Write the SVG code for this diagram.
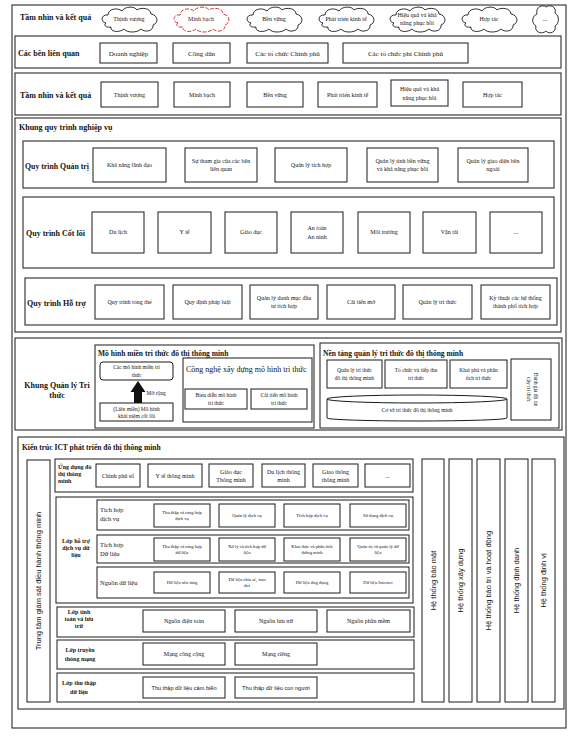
<svg xmlns="http://www.w3.org/2000/svg" width="575" height="739" viewBox="0 0 575 739">
<style>
text{font-family:"Liberation Serif","Times New Roman",serif;fill:#151515}
.m{text-anchor:middle}
.h{font-weight:bold}
.bx{fill:#fff;stroke:#1a1a1a;stroke-width:1}
.sec{fill:none;stroke:#2a2a2a;stroke-width:1.1}
.cl{fill:#fff;stroke:#1a1a1a;stroke-width:0.9}
.red{stroke:#c22;stroke-dasharray:4 1.5}
.sans{font-family:"Liberation Sans",Arial,sans-serif}
.f46{font-size:4.6px}
.f55{font-size:5.5px}
.f56{font-size:5.6px}
.f6{font-size:6px}
.f65{font-size:6.5px}
.f7{font-size:7px}
.f75{font-size:7.5px}
.f8{font-size:8px}
</style>
<defs>
<path id="cloud" d="M6,17 C0,16 1,8 8,9 C8,3 17,1 22,5 C25,0 35,0 37,4 C41,1 51,2 51,8 C58,9 59,17 53,19 C54,25 45,27 41,23 C37,27 27,27 24,23 C19,27 10,26 11,21 C6,22 3,19 6,17 Z"/>
</defs>
<rect width="575" height="739" fill="#fff"/>
<rect class="sec" x="12" y="5" width="554" height="723"/>

<g id="vision-clouds">
<text class="h f8" x="20" y="20">Tầm nhìn và kết quả</text>
<g id="cloud-thinh-vuong"><use href="#cloud" class="cl" x="100" y="6"/><text class="m f6" x="129" y="21">Thịnh vượng</text></g>
<g id="cloud-minh-bach"><use href="#cloud" class="cl red" x="172" y="6"/><text class="m f6" x="201" y="21" style="fill:#5a1010">Minh bạch</text></g>
<g id="cloud-ben-vung"><use href="#cloud" class="cl" x="245" y="6"/><text class="m f6" x="274" y="21">Bền vững</text></g>
<g id="cloud-phat-trien"><use href="#cloud" class="cl" x="317" y="6"/><text class="m f6" x="346" y="21">Phát triển kinh tế</text></g>
<g id="cloud-hieu-qua"><use href="#cloud" class="cl" x="388" y="6"/><text class="m f6" x="417" y="17">Hiệu quả và khả</text><text class="m f6" x="417" y="25">năng phục hồi</text></g>
<g id="cloud-hop-tac"><use href="#cloud" class="cl" x="460" y="6"/><text class="m f6" x="489" y="21">Hợp tác</text></g>
<g id="cloud-more"><path class="cl" transform="translate(532,4)" d="M5,10 C3,3 11,0 14,3 C18,0 25,3 23,9 C28,12 27,20 23,22 C25,28 17,31 14,27 C10,31 2,28 4,22 C-1,19 0,12 5,10 Z"/><text class="m f6" x="545" y="21">...</text></g>
</g>

<g id="stakeholders">
<rect class="sec" x="15" y="36" width="546" height="32"/>
<text class="h f8" x="18" y="56">Các bên liên quan</text>
<g id="sh-doanh-nghiep"><rect class="bx" x="100" y="43" width="57" height="20"/><text class="m f7" x="128.5" y="55.5">Doanh nghiệp</text></g>
<g id="sh-cong-dan"><rect class="bx" x="173" y="43" width="57" height="20"/><text class="m f7" x="201.5" y="55.5">Công dân</text></g>
<g id="sh-to-chuc-cp"><rect class="bx" x="247" y="43" width="81" height="20"/><text class="m f7" x="287.5" y="55.5">Các tổ chức Chính phủ</text></g>
<g id="sh-to-chuc-phi-cp"><rect class="bx" x="343" y="43" width="125" height="20"/><text class="m f7" x="405.5" y="55.5">Các tổ chức phi Chính phủ</text></g>
</g>

<g id="vision-boxes">
<rect class="sec" x="15" y="73" width="546" height="42"/>
<text class="h f8" x="20" y="98">Tầm nhìn và kết quả</text>
<g id="v-thinh-vuong"><rect class="bx" x="101" y="82" width="57" height="25"/><text class="m f6" x="129.5" y="96.5">Thịnh vượng</text></g>
<g id="v-minh-bach"><rect class="bx" x="174" y="82" width="56" height="25"/><text class="m f6" x="202" y="96.5">Minh bạch</text></g>
<g id="v-ben-vung"><rect class="bx" x="247" y="82" width="56" height="25"/><text class="m f6" x="275" y="96.5">Bền vững</text></g>
<g id="v-phat-trien"><rect class="bx" x="318" y="82" width="59" height="25"/><text class="m f6" x="347.5" y="96.5">Phát triển kinh tế</text></g>
<g id="v-hieu-qua"><rect class="bx" x="391" y="80" width="57" height="26"/><text class="m f6" x="419.5" y="91">Hiệu quả và khả</text><text class="m f6" x="419.5" y="100">năng phục hồi</text></g>
<g id="v-hop-tac"><rect class="bx" x="463" y="82" width="59" height="25"/><text class="m f6" x="492.5" y="96.5">Hợp tác</text></g>
</g>

<g id="business-process">
<rect class="sec" x="15" y="118" width="546" height="214"/>
<text class="h f8" x="19" y="130">Khung quy trình nghiệp vụ</text>
<g id="qt-quan-tri">
<rect class="sec" x="23" y="141" width="531" height="47"/>
<text class="h f8" x="25" y="169" style="font-size:7.8px">Quy trình Quản trị</text>
<g id="qt1"><rect class="bx" x="93" y="148" width="73" height="34"/><text class="m f6" x="129.5" y="167">Khả năng lãnh đạo</text></g>
<g id="qt2"><rect class="bx" x="185" y="148" width="72" height="34"/><text class="m f6" x="221" y="162.5">Sự tham gia của các bên</text><text class="m f6" x="221" y="170.5">liên quan</text></g>
<g id="qt3"><rect class="bx" x="275" y="148" width="72" height="34"/><text class="m f6" x="311" y="167">Quản lý tích hợp</text></g>
<g id="qt4"><rect class="bx" x="367" y="148" width="71" height="34"/><text class="m f6" x="402.5" y="162.5">Quản lý tính bền vững</text><text class="m f6" x="402.5" y="170.5">và khả năng phục hồi</text></g>
<g id="qt5"><rect class="bx" x="458" y="148" width="70" height="34"/><text class="m f6" x="493" y="162.5">Quản lý giao diện bên</text><text class="m f6" x="493" y="170.5">ngoài</text></g>
</g>
<g id="qt-cot-loi">
<rect class="sec" x="23" y="197" width="531" height="71"/>
<text class="h f8" x="26" y="236">Quy trình Cốt lõi</text>
<g id="cl1"><rect class="bx" x="92" y="212" width="52" height="41"/><text class="m f6" x="118" y="234">Du lịch</text></g>
<g id="cl2"><rect class="bx" x="158" y="212" width="53" height="41"/><text class="m f6" x="184.5" y="234">Y tế</text></g>
<g id="cl3"><rect class="bx" x="225" y="212" width="52" height="41"/><text class="m f6" x="251" y="234">Giáo dục</text></g>
<g id="cl4"><rect class="bx" x="291" y="212" width="52" height="41"/><text class="m f6" x="317" y="230">An toàn</text><text class="m f6" x="317" y="238.5">An ninh</text></g>
<g id="cl5"><rect class="bx" x="358" y="212" width="52" height="41"/><text class="m f6" x="384" y="234">Môi trường</text></g>
<g id="cl6"><rect class="bx" x="423" y="212" width="53" height="41"/><text class="m f6" x="449.5" y="234">Vận tải</text></g>
<g id="cl7"><rect class="bx" x="490" y="212" width="52" height="41"/><text class="m f6" x="516" y="234">...</text></g>
</g>
<g id="qt-ho-tro">
<rect class="sec" x="25" y="278" width="532" height="47"/>
<text class="h f8" x="27" y="306">Quy trình Hỗ trợ</text>
<g id="ht1"><rect class="bx" x="95" y="285" width="69" height="34"/><text class="m f6" x="129.5" y="304">Quy trình tổng thể</text></g>
<g id="ht2"><rect class="bx" x="173" y="285" width="69" height="34"/><text class="m f6" x="207.5" y="304">Quy định pháp luật</text></g>
<g id="ht3"><rect class="bx" x="250" y="285" width="68" height="34"/><text class="m f6" x="284" y="299.5">Quản lý danh mục đầu</text><text class="m f6" x="284" y="307.5">tư tích hợp</text></g>
<g id="ht4"><rect class="bx" x="327" y="285" width="68" height="34"/><text class="m f6" x="361" y="304">Cải tiến mở</text></g>
<g id="ht5"><rect class="bx" x="403" y="285" width="69" height="34"/><text class="m f6" x="437.5" y="304">Quản lý tri thức</text></g>
<g id="ht6"><rect class="bx" x="481" y="285" width="69" height="34"/><text class="m f6" x="515.5" y="299.5">Kỹ thuật các hệ thống</text><text class="m f6" x="515.5" y="307.5">thành phố tích hợp</text></g>
</g>
</g>

<g id="knowledge">
<rect class="sec" x="15" y="338" width="547" height="92"/>
<text class="h f8 m" x="57" y="388">Khung Quản lý Tri</text>
<text class="h f8 m" x="57" y="398">thức</text>
<g id="domain-model">
<rect class="bx" x="95" y="345" width="219" height="83"/>
<text class="h f75" x="98" y="356">Mô hình miền tri thức đô thị thông minh</text>
<g id="dm-cac-mo-hinh"><rect class="bx" x="100" y="362" width="73" height="18" rx="3"/><text class="m f55" x="136.5" y="369">Các mô hình miền tri</text><text class="m f55" x="136.5" y="376.5">thức</text></g>
<g id="dm-lien-mien"><rect class="bx" x="100" y="403" width="73" height="18"/><text class="m f55" x="136.5" y="410.5">(Liên miền) Mô hình</text><text class="m f55" x="136.5" y="418">khái niệm cốt lõi</text></g>
<g id="dm-cong-nghe">
<rect class="bx" x="183" y="358" width="129" height="64"/>
<text class="f8" x="186" y="372">Công nghệ xây dựng mô hình tri thức</text>
<g id="cn-bieu-dien"><rect class="bx" x="185" y="389" width="62" height="20"/><text class="m f55" x="216" y="397">Biểu diễn mô hình</text><text class="m f55" x="216" y="405">tri thức</text></g>
<g id="cn-cai-tien"><rect class="bx" x="251" y="389" width="56" height="20"/><text class="m f55" x="279" y="397">Cải tiến mô hình</text><text class="m f55" x="279" y="405">tri thức</text></g>
</g>
</g>
<g id="km-platform">
<rect class="bx" x="320" y="343" width="239" height="85"/>
<text class="h f75" x="323" y="356">Nền tảng quản lý tri thức đô thị thông minh</text>
<g id="kp1"><rect class="bx" x="327" y="360" width="55" height="28"/><text class="m f55" x="354.5" y="372">Quản lý tri thức</text><text class="m f55" x="354.5" y="380">đô thị thông minh</text></g>
<g id="kp2"><rect class="bx" x="385" y="360" width="62" height="28"/><text class="m f55" x="416" y="372">Tổ chức và tiếp thu</text><text class="m f55" x="416" y="380">tri thức</text></g>
<g id="kp3"><rect class="bx" x="450" y="360" width="57" height="28"/><text class="m f55" x="478.5" y="372">Khai phá và phân</text><text class="m f55" x="478.5" y="380">tích tri thức</text></g>
<g id="kp4"><rect class="bx" x="511" y="359" width="40" height="61"/><g transform="translate(531,389.5) rotate(90)"><text class="m f55" x="0" y="-3">Đánh giá độ tin</text><text class="m f55" x="0" y="4">cậy tri thức</text></g></g>
<g id="kp-db"><path class="bx" d="M327,399 L327,418 A90,3 0 0 0 507,418 L507,399 Z"/><ellipse class="bx" cx="417" cy="399" rx="90" ry="4"/><text class="m f55" x="417" y="412">Cơ sở tri thức đô thị thông minh</text></g>
</g>
</g>

<g id="ict">
<rect class="sec" x="18" y="437" width="546" height="272"/>
<text class="h f75" x="22" y="450">Kiến trúc ICT phát triển đô thị thông minh</text>
<g id="ict-monitor"><rect class="bx" x="27" y="460" width="23" height="242"/><text class="m sans f75" transform="translate(38.5,581) rotate(-90)" y="2.7">Trung tâm giám sát điều hành thông minh</text></g>

<g id="ict-apps">
<rect class="bx" x="55" y="459" width="358" height="33"/>
<text class="h f6" x="58" y="469">Ứng dụng đô</text><text class="h f6" x="58" y="476">thị thông</text><text class="h f6" x="58" y="483">minh</text>
<g id="app1"><rect class="bx" x="96" y="464" width="44" height="23"/><text class="m f6" x="118" y="477.5">Chính phủ số</text></g>
<g id="app2"><rect class="bx" x="148" y="464" width="54" height="23"/><text class="m f6" x="175" y="477.5">Y tế thông minh</text></g>
<g id="app3"><rect class="bx" x="209" y="464" width="44" height="23"/><text class="m f6" x="231" y="474">Giáo dục</text><text class="m f6" x="231" y="481.5">Thông minh</text></g>
<g id="app4"><rect class="bx" x="262" y="464" width="43" height="23"/><text class="m f6" x="283.5" y="474">Du lịch thông</text><text class="m f6" x="283.5" y="481.5">minh</text></g>
<g id="app5"><rect class="bx" x="313" y="464" width="45" height="23"/><text class="m f6" x="335.5" y="474">Giao thông</text><text class="m f6" x="335.5" y="481.5">thông minh</text></g>
<g id="app6"><rect class="bx" x="365" y="464" width="45" height="23"/><text class="m f6" x="387.5" y="477.5">...</text></g>
</g>

<g id="ict-support">
<rect class="bx" x="56" y="497" width="357" height="106"/>
<text class="h f6 m" x="76" y="543">Lớp hỗ trợ</text><text class="h f6 m" x="76" y="550">dịch vụ dữ</text><text class="h f6 m" x="76" y="557">liệu</text>
<g id="row-service">
<rect class="bx" x="97" y="500" width="312" height="30"/>
<text class="f65" x="100" y="512">Tích hợp</text><text class="f65" x="100" y="521">dịch vụ</text>
<g id="sv1"><rect class="bx" x="154" y="504" width="56" height="23"/><text class="m f46" x="182" y="514">Thu thập và tổng hợp</text><text class="m f46" x="182" y="520">dịch vụ</text></g>
<g id="sv2"><rect class="bx" x="219" y="504" width="56" height="23"/><text class="m f46" x="247" y="517">Quản lý dịch vụ</text></g>
<g id="sv3"><rect class="bx" x="284" y="504" width="56" height="23"/><text class="m f46" x="312" y="517">Tích hợp dịch vụ</text></g>
<g id="sv4"><rect class="bx" x="350" y="504" width="56" height="23"/><text class="m f46" x="378" y="517">Sử dụng dịch vụ</text></g>
</g>
<g id="row-data">
<rect class="bx" x="97" y="535" width="312" height="28"/>
<text class="f65" x="100" y="547">Tích hợp</text><text class="f65" x="100" y="556">Dữ liệu</text>
<g id="dt1"><rect class="bx" x="154" y="538" width="56" height="23"/><text class="m f46" x="182" y="548">Thu thập và tổng hợp</text><text class="m f46" x="182" y="554">dữ liệu</text></g>
<g id="dt2"><rect class="bx" x="219" y="538" width="56" height="23"/><text class="m f46" x="247" y="548">Xử lý và tích hợp dữ</text><text class="m f46" x="247" y="554">liệu</text></g>
<g id="dt3"><rect class="bx" x="284" y="538" width="56" height="23"/><text class="m f46" x="312" y="548">Khai thác và phân tích</text><text class="m f46" x="312" y="554">thông minh</text></g>
<g id="dt4"><rect class="bx" x="350" y="538" width="56" height="23"/><text class="m f46" x="378" y="548">Quản trị và quản lý dữ</text><text class="m f46" x="378" y="554">liệu</text></g>
</g>
<g id="row-source">
<rect class="bx" x="97" y="567" width="312" height="31"/>
<text class="f65" x="100" y="585">Nguồn dữ liệu</text>
<g id="sr1"><rect class="bx" x="154" y="572" width="56" height="21"/><text class="m f46" x="182" y="584">Dữ liệu nền tảng</text></g>
<g id="sr2"><rect class="bx" x="219" y="572" width="56" height="21"/><text class="m f46" x="247" y="581">Dữ liệu chia sẻ, trao</text><text class="m f46" x="247" y="587">đổi</text></g>
<g id="sr3"><rect class="bx" x="284" y="572" width="56" height="21"/><text class="m f46" x="312" y="584">Dữ liệu ứng dụng</text></g>
<g id="sr4"><rect class="bx" x="350" y="572" width="56" height="21"/><text class="m f46" x="378" y="584">Dữ liệu Internet</text></g>
</g>
</g>

<g id="ict-compute">
<rect class="bx" x="57" y="607" width="357" height="30"/>
<text class="h f6 m" x="79" y="614">Lớp tính</text><text class="h f6 m" x="79" y="621">toán và lưu</text><text class="h f6 m" x="79" y="628">trữ</text>
<g id="cp1"><rect class="bx" x="143" y="610" width="82" height="22"/><text class="m f6" x="184" y="623">Nguồn điện toán</text></g>
<g id="cp2"><rect class="bx" x="235" y="610" width="82" height="22"/><text class="m f6" x="276" y="623">Nguồn lưu trữ</text></g>
<g id="cp3"><rect class="bx" x="327" y="610" width="83" height="22"/><text class="m f6" x="368.5" y="623">Nguồn phần mềm</text></g>
</g>

<g id="ict-network">
<rect class="bx" x="57" y="640" width="357" height="29"/>
<text class="h f6 m" x="80" y="652">Lớp truyền</text><text class="h f6 m" x="80" y="661">thông mạng</text>
<g id="nw1"><rect class="bx" x="143" y="643" width="82" height="22"/><text class="m f6" x="184" y="656">Mạng công cộng</text></g>
<g id="nw2"><rect class="bx" x="235" y="643" width="82" height="22"/><text class="m f6" x="276" y="656">Mạng riêng</text></g>
</g>

<g id="ict-collect">
<rect class="bx" x="57" y="673" width="357" height="29"/>
<text class="h f6 m" x="79" y="685">Lớp thu thập</text><text class="h f6 m" x="79" y="694">dữ liệu</text>
<g id="co1"><rect class="bx" x="143" y="677" width="82" height="21"/><text class="m sans f56" x="184" y="689.5">Thu thập dữ liệu cảm biến</text></g>
<g id="co2"><rect class="bx" x="235" y="677" width="82" height="21"/><text class="m sans f56" x="276" y="689.5">Thu thập dữ liệu con người</text></g>
</g>

<g id="sys-bao-mat"><rect class="bx" x="422" y="459" width="22" height="243"/><text class="m sans f75" transform="translate(433,580.5) rotate(-90)" y="2.7">Hệ thống bảo mật</text></g>
<g id="sys-xay-dung"><rect class="bx" x="449" y="459" width="23" height="243"/><text class="m sans f75" transform="translate(460.5,580.5) rotate(-90)" y="2.7">Hệ thống xây dựng</text></g>
<g id="sys-bao-tri"><rect class="bx" x="477" y="459" width="23" height="243"/><text class="m sans f75" transform="translate(488.5,580.5) rotate(-90)" y="2.7">Hệ thống bảo trì và hoạt động</text></g>
<g id="sys-dinh-danh"><rect class="bx" x="505" y="459" width="23" height="243"/><text class="m sans f75" transform="translate(516.5,580.5) rotate(-90)" y="2.7">Hệ thống định danh</text></g>
<g id="sys-dinh-vi"><rect class="bx" x="532" y="459" width="23" height="243"/><text class="m sans f75" transform="translate(543.5,580.5) rotate(-90)" y="2.7">Hệ thống định vị</text></g>
</g>

<g id="connectors">
<polygon points="134,403 142,403 142,392 145.5,392 138,381 130.5,392 134,392" fill="#111"/>
<text class="f55" x="146.5" y="395">Mở rộng</text>
</g>
</svg>
